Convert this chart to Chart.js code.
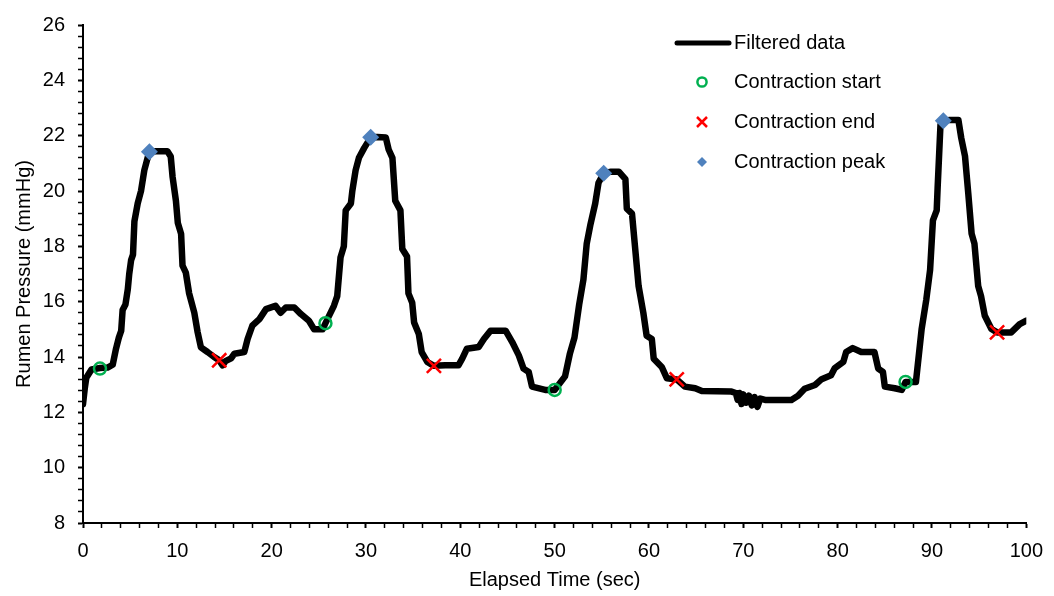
<!DOCTYPE html>
<html>
<head>
<meta charset="utf-8">
<script src="https://cdn.jsdelivr.net/npm/chart.js@4/dist/chart.umd.min.js"></script>
<style>
  html, body { margin: 0; padding: 0; background: #fff; }
  #wrap { position: relative; width: 1054px; height: 596px; }
</style>
</head>
<body>
<div id="wrap"><canvas id="chart"></canvas></div>
<script>
// filtered pressure trace
const timeSec = [
  0.0, 0.2, 0.35, 0.9, 1.8, 2.6, 3.15, 3.5, 3.8, 4.05, 4.2, 4.5, 4.75, 4.9, 5.1, 5.3, 5.45, 5.8, 6.15, 6.5,
  6.85, 7.05, 7.75, 8.95, 9.3, 9.5, 9.85, 10.05, 10.4, 10.55, 10.9, 11.25, 11.8, 12.15, 12.5, 13.2, 13.9, 14.44, 14.8, 15.1,
  15.7, 16.05, 17.1, 17.45, 17.95, 18.7, 19.4, 20.4, 20.95, 21.5, 22.4, 23.1, 23.95, 24.5, 25.4, 25.7, 26.6, 26.95, 27.3, 27.65,
  27.85, 28.4, 28.55, 28.9, 29.25, 29.8, 30.5, 31.2, 32.1, 32.4, 32.8, 33.1, 33.65, 33.85, 34.35, 34.5, 34.9, 35.1, 35.6, 35.9,
  36.5, 37.2, 38.4, 39.8, 40.2, 40.7, 41.95, 42.5, 43.2, 44.8, 45.5, 46.2, 46.7, 47.25, 47.6, 49.0, 50.0, 51.1, 51.6, 52.1,
  52.6, 53.05, 53.4, 53.8, 54.3, 54.65, 55.2, 56.0, 56.8, 57.5, 57.65, 58.2, 58.9, 59.4, 59.75, 60.3, 60.5, 61.35, 61.9, 62.94,
  63.8, 64.9, 65.6, 68.75, 69.2, 69.4, 69.6, 69.8, 70.0, 70.3, 70.6, 70.9, 71.2, 71.5, 71.8, 72.3, 75.1, 75.8, 76.5, 77.6,
  78.3, 79.3, 79.7, 80.6, 80.9, 81.6, 82.5, 83.9, 84.3, 84.8, 85.0, 86.05, 86.8, 87.2, 88.3, 88.9, 89.4, 89.8, 90.1, 90.5,
  90.6, 90.9, 91.2, 91.9, 92.8, 93.1, 93.5, 93.85, 94.2, 94.5, 94.9, 95.2, 95.6, 96.3, 96.9, 98.4, 99.3, 100.0
];
const pressure = [
  12.3, 12.9, 13.25, 13.55, 13.6, 13.62, 13.72, 14.3, 14.7, 14.95, 15.7, 15.9, 16.45, 17.0, 17.5, 17.7, 18.9, 19.55, 20.0, 20.75,
  21.2, 21.42, 21.44, 21.44, 21.25, 20.5, 19.65, 18.85, 18.45, 17.3, 17.05, 16.3, 15.6, 14.9, 14.35, 14.18, 14.0, 13.88, 13.7, 13.85,
  13.95, 14.12, 14.18, 14.65, 15.13, 15.37, 15.73, 15.85, 15.6, 15.79, 15.79, 15.55, 15.31, 15.0, 15.0, 15.22, 15.85, 16.2, 17.6, 18.0,
  19.3, 19.55, 20.0, 20.75, 21.2, 21.55, 21.94, 21.95, 21.93, 21.5, 21.2, 19.65, 19.3, 17.9, 17.63, 16.3, 15.96, 15.25, 14.83, 14.18,
  13.82, 13.68, 13.7, 13.7, 13.94, 14.3, 14.36, 14.65, 14.95, 14.95, 14.54, 14.06, 13.58, 13.46, 12.93, 12.81, 12.81, 13.3, 14.1, 14.7,
  15.9, 16.8, 18.1, 18.8, 19.55, 20.3, 20.64, 20.7, 20.7, 20.43, 19.36, 19.18, 16.56, 15.6, 14.77, 14.65, 13.94, 13.64, 13.23, 13.19,
  12.93, 12.87, 12.77, 12.75, 12.7, 12.45, 12.7, 12.3, 12.65, 12.35, 12.6, 12.25, 12.55, 12.2, 12.5, 12.45, 12.45, 12.6, 12.85, 12.99,
  13.2, 13.34, 13.6, 13.82, 14.18, 14.32, 14.18, 14.18, 13.58, 13.46, 12.93, 12.87, 12.81, 13.1, 13.1, 15.0, 16.08, 17.15, 18.94, 19.3,
  20.13, 22.39, 22.54, 22.57, 22.57, 21.92, 21.26, 19.9, 18.46, 18.1, 16.56, 16.2, 15.49, 15.01, 14.89, 14.89, 15.19, 15.31
];

const startTime = [1.8, 25.7, 50.0, 87.2];
const startPressure = [13.58, 15.22, 12.81, 13.1];
const endTime = [14.44, 37.2, 62.94, 96.9];
const endPressure = [13.88, 13.68, 13.19, 14.89];
const peakTime = [7.04, 30.5, 55.2, 91.2];
const peakPressure = [21.42, 21.94, 20.64, 22.54];

const seriesNames = ["Filtered data", "Contraction start", "Contraction end", "Contraction peak"];
const xTitle = "Elapsed Time (sec)";
const yTitle = "Rumen Pressure (mmHg)";

const FONT = '"Liberation Sans", Arial, sans-serif';
const GREEN = "#00b050";
const RED = "#ff0000";
const BLUE = "#4f81bd";

const toPoints = (xs, ys) => xs.map((x, i) => ({ x, y: ys[i] }));

// legend drawn inside the plot, top right
const insideLegend = {
  id: "insideLegend",
  afterDatasetsDraw(chart) {
    const ctx = chart.ctx;
    const rows = [43, 82, 122, 162];
    const mx = 702;
    ctx.save();
    ctx.strokeStyle = "#000";
    ctx.lineWidth = 5;
    ctx.lineCap = "round";
    ctx.beginPath();
    ctx.moveTo(677, rows[0]);
    ctx.lineTo(729, rows[0]);
    ctx.stroke();

    ctx.lineCap = "butt";
    ctx.strokeStyle = GREEN;
    ctx.lineWidth = 2.5;
    ctx.beginPath();
    ctx.arc(mx, rows[1], 4.6, 0, Math.PI * 2);
    ctx.stroke();
    ctx.strokeStyle = RED;
    ctx.lineWidth = 2.5;
    ctx.beginPath();
    ctx.moveTo(mx - 5, rows[2] - 5);
    ctx.lineTo(mx + 5, rows[2] + 5);
    ctx.moveTo(mx + 5, rows[2] - 5);
    ctx.lineTo(mx - 5, rows[2] + 5);
    ctx.stroke();
    ctx.fillStyle = BLUE;
    ctx.beginPath();
    ctx.moveTo(mx, rows[3] - 5);
    ctx.lineTo(mx + 5, rows[3]);
    ctx.lineTo(mx, rows[3] + 5);
    ctx.lineTo(mx - 5, rows[3]);
    ctx.closePath();
    ctx.fill();

    ctx.fillStyle = "#000";
    ctx.font = "20px " + FONT;
    ctx.textBaseline = "middle";
    ctx.textAlign = "left";
    seriesNames.forEach((name, i) => ctx.fillText(name, 734, rows[i]));
    ctx.restore();
  },
};

const isMajor = (v, every) => Math.abs(v / every - Math.round(v / every)) < 1e-6;

new Chart(document.getElementById("chart"), {
  type: "scatter",
  data: {
    datasets: [
      {
        label: seriesNames[0],
        type: "line",
        data: toPoints(timeSec, pressure),
        borderColor: "#000",
        borderWidth: 6.5,
        borderJoinStyle: "round",
        borderCapStyle: "round",
        pointRadius: 0,
        tension: 0,
        order: 10,
      },
      {
        label: seriesNames[1],
        data: toPoints(startTime, startPressure),
        pointStyle: "circle",
        pointRadius: 6,
        borderColor: GREEN,
        backgroundColor: "rgba(0,0,0,0)",
        pointBorderWidth: 2.5,
        order: 2,
      },
      {
        label: seriesNames[2],
        data: toPoints(endTime, endPressure),
        pointStyle: "crossRot",
        pointRadius: 10,
        borderColor: RED,
        pointBorderWidth: 2.5,
        order: 1,
      },
      {
        label: seriesNames[3],
        data: toPoints(peakTime, peakPressure),
        pointStyle: "rectRot",
        pointRadius: 8.5,
        borderColor: BLUE,
        backgroundColor: BLUE,
        pointBorderWidth: 0,
        order: 0,
      },
    ],
  },
  options: {
    responsive: true,
    maintainAspectRatio: false,
    animation: false,
    layout: { padding: { top: 19, right: 26, left: 0, bottom: 0 } },
    plugins: {
      legend: { display: false },
      tooltip: { enabled: false },
    },
    scales: {
      x: {
        type: "linear",
        min: 0,
        max: 100,
        afterFit: (scale) => { scale.height = 73; },
        border: { display: true, color: "#000", width: 2 },
        grid: {
          drawOnChartArea: false,
          drawTicks: true,
          tickLength: 5,
          tickColor: "#000",
          tickWidth: (c) => (isMajor(c.tick.value, 10) ? 2 : 1.5),
        },
        ticks: {
          stepSize: 2,
          autoSkip: false,
          maxRotation: 0,
          padding: 11,
          color: "#000",
          font: { family: FONT, size: 20 },
          callback: (v) => (isMajor(v, 10) ? String(Math.round(v)) : ""),
        },
        title: {
          display: true,
          text: xTitle,
          color: "#000",
          font: { family: FONT, size: 20 },
          padding: { top: 0, bottom: 4 },
        },
      },
      y: {
        type: "linear",
        min: 8,
        max: 26,
        afterFit: (scale) => { scale.width = 83; },
        border: { display: true, color: "#000", width: 2 },
        grid: {
          drawOnChartArea: false,
          drawTicks: true,
          tickLength: 5,
          tickColor: "#000",
          tickWidth: (c) => (isMajor(c.tick.value, 2) ? 2 : 1.5),
        },
        ticks: {
          stepSize: 0.4,
          autoSkip: false,
          padding: 13,
          color: "#000",
          font: { family: FONT, size: 20 },
          callback: (v) => (isMajor(v, 2) ? String(Math.round(v)) : ""),
        },
        title: {
          display: true,
          text: yTitle,
          color: "#000",
          font: { family: FONT, size: 20 },
          padding: { top: 12, bottom: 0 },
        },
      },
    },
  },
  plugins: [insideLegend],
});
</script>
</body>
</html>
